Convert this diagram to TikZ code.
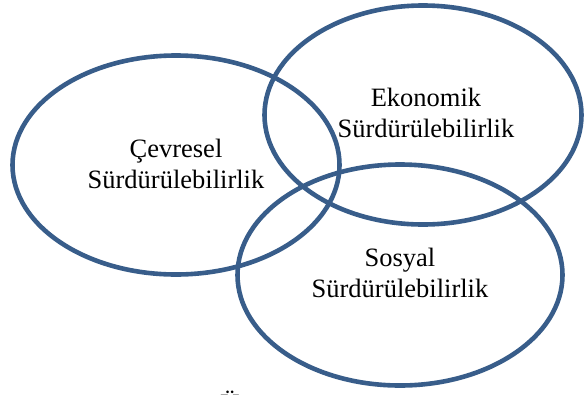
\documentclass[tikz,border=0pt]{standalone}
\usepackage{fontspec}
\setmainfont{Liberation Serif}
\definecolor{ringblue}{HTML}{385D8A}
\tikzset{
  ring/.style={draw=ringblue, line width=4.6pt},
  lbl/.style={align=center, inner sep=0pt, font=\fontsize{26.5}{31}\selectfont}
}
\begin{document}
\begin{tikzpicture}[x=1pt, y=-1pt]
  \useasboundingbox (0,0) rectangle (585,394);
  % three overlapping sustainability rings
  \draw[ring] (176,165) ellipse [x radius=163.5, y radius=109.5];
  \draw[ring] (423,115) ellipse [x radius=158.5, y radius=109.5];
  \draw[ring] (400,275) ellipse [x radius=162.5, y radius=110.5];
  % ring labels
  \node[lbl] (cevre) at (176,163.5) {Çevresel\\Sürdürülebilirlik};
  \node[lbl] (ekon) at (426,113) {Ekonomik\\Sürdürülebilirlik};
  \node[lbl] (sosyal) at (400,273) {Sosyal\\Sürdürülebilirlik};
  % caption running off the lower edge
  \node[lbl, anchor=base] (cap) at (230,412) {Ü};
\end{tikzpicture}
\end{document}
